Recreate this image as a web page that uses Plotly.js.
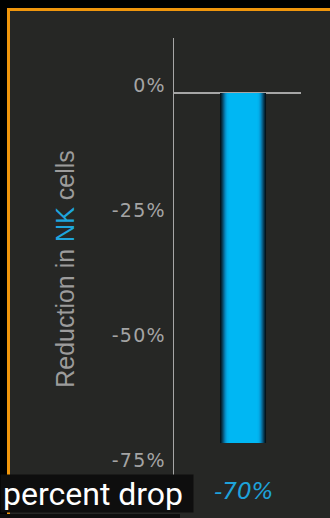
<!DOCTYPE html>
<html>
<head>
<meta charset="utf-8">
<script src="https://cdn.plot.ly/plotly-3.0.1.min.js"></script>
<style>
  html, body { margin:0; padding:0; background:#000; width:330px; height:518px; overflow:hidden; }
  #panel { position:absolute; left:7px; top:8px; width:400px; height:600px;
           border-left:3px solid #f0960c; border-top:3px solid #f0960c; background:#262725; }
  #chart { position:absolute; left:0; top:0; width:330px; height:518px; }
  .ytick text { letter-spacing:1.2px; }
</style>
</head>
<body>
<div id="panel"></div>
<div id="chart"></div>
<script>
// ---- data ----
const categories = ['NK cells'];
const values = [-70];               // percent change
const tickValues = [0, -25, -50, -75];
const tickLabels = ['0%', '-25%', '-50%', '-75%'];
const yTitle = "Reduction in <span style='color:#1ea5dc'>NK</span> cells";
const caption = 'percent drop';

// ---- styling: layered bars give the cylindrical gradient ----
const layers = [
  {w: 0.724, c: '#03141d'},
  {w: 0.69,  c: '#052c40'},
  {w: 0.655, c: '#084866'},
  {w: 0.62,  c: '#0a6690'},
  {w: 0.585, c: '#0884ba'},
  {w: 0.55,  c: '#049fda'},
  {w: 0.51,  c: '#01afeb'},
  {w: 0.46,  c: '#00b7f3'}
];
const traces = layers.map(l => ({
  type: 'bar', x: categories, y: values, width: l.w,
  marker: {color: l.c, line: {width: 0}}, hoverinfo: 'skip', showlegend: false
}));

// plot area: x 174..301, y 38..500
const L = 174, R = 29, T = 38, B = 18, W = 330, H = 518;
const pw = W - L - R, ph = H - T - B;
const px = v => (v - L) / pw;
const py = v => (H - B - v) / ph;

const layout = {
  width: W, height: H,
  margin: {l: L, r: R, t: T, b: B, pad: 0},
  paper_bgcolor: 'rgba(0,0,0,0)', plot_bgcolor: 'rgba(0,0,0,0)',
  barmode: 'overlay',
  xaxis: {type: 'category', range: [-1.087, 0.913], visible: false, fixedrange: true},
  yaxis: {
    range: [-81.4, 11],
    showgrid: false,
    zeroline: true, zerolinecolor: '#a6a6a6', zerolinewidth: 2,
    showline: true, linecolor: '#a6a6a6', linewidth: 1.5,
    ticks: '', tickvals: tickValues, ticktext: tickLabels,
    ticklabelstandoff: 3, ticklabelshift: -8,
    tickfont: {family: 'DejaVu Sans', size: 19, color: '#a4a4a4'},
    title: {text: yTitle, font: {family: 'Liberation Sans', size: 25, color: '#9c9c9c'}, standoff: 30},
    fixedrange: true
  },
  annotations: [
    {
      x: categories[0], y: values[0], xref: 'x', yref: 'y',
      text: values[0] + '%', showarrow: false, yshift: -48,
      font: {family: 'DejaVu Sans', size: 23, style: 'italic', color: '#1ea2da'}
    },
    {
      xref: 'paper', yref: 'paper', x: px(0), y: py(474), xanchor: 'left', yanchor: 'top',
      text: caption, showarrow: false, align: 'left',
      width: 188, height: 33, borderpad: 2, bgcolor: '#0e0e0e',
      font: {family: 'Roboto', size: 32, color: '#ffffff'}
    }
  ],
  shapes: [
    {type: 'rect', xref: 'paper', yref: 'paper', layer: 'above',
     x0: px(0), x1: px(180), y0: py(514), y1: py(540),
     fillcolor: '#0e0e0e', line: {width: 0}}
  ]
};

Plotly.newPlot('chart', traces, layout, {displayModeBar: false, staticPlot: true});
</script>
</body>
</html>
